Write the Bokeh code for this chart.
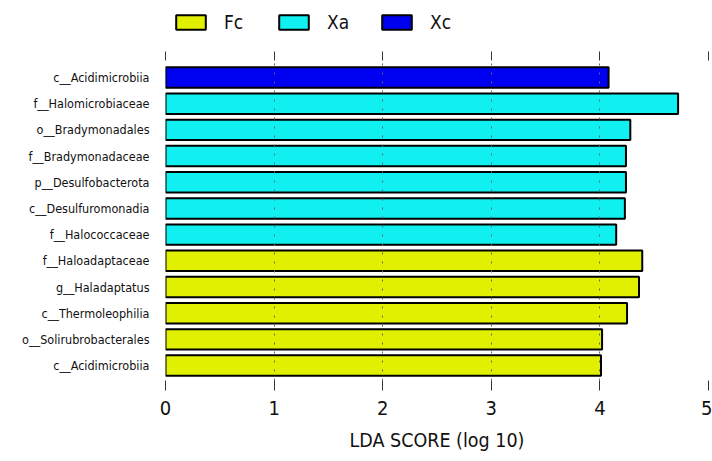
from bokeh.plotting import figure
from bokeh.layouts import column
from bokeh.models import (ColumnDataSource, FixedTicker, LinearAxis, Legend,
                          LegendItem, Range1d, Title)
from bokeh.embed import file_html
from bokeh.resources import INLINE

# ---- data (top to bottom as displayed) ----
features = ["c__Acidimicrobiia", "f__Halomicrobiaceae", "o__Bradymonadales",
            "f__Bradymonadaceae", "p__Desulfobacterota", "c__Desulfuromonadia",
            "f__Halococcaceae", "f__Haloadaptaceae", "g__Haladaptatus",
            "c__Thermoleophilia", "o__Solirubrobacterales", "c__Acidimicrobiia"]
groups = ["Xc", "Xa", "Xa", "Xa", "Xa", "Xa", "Xa", "Fc", "Fc", "Fc", "Fc", "Fc"]
lda = [4.08, 4.72, 4.28, 4.24, 4.24, 4.23, 4.15, 4.39, 4.36, 4.25, 4.02, 4.01]
group_order = ["Fc", "Xa", "Xc"]
group_colors = {"Fc": "#e0f000", "Xa": "#10f0f0", "Xc": "#0000f0"}
x_ticks = [0, 1, 2, 3, 4, 5]

FONT = "DejaVu Sans Condensed"
n = len(features)
ypos = [n - 1 - i for i in range(n)]

sources = {}
for g in group_order:
    idx = [i for i in range(n) if groups[i] == g]
    sources[g] = ColumnDataSource(dict(y=[ypos[i] for i in idx],
                                       right=[lda[i] for i in idx]))

# ---------------- legend strip ----------------
lg = figure(width=712, height=51, output_backend="svg", toolbar_location=None,
            x_range=Range1d(0, 5), y_range=Range1d(100, 101),
            min_border=0, x_axis_type=None, y_axis_type=None)
lg.outline_line_color = None
lg.xgrid.visible = False
lg.ygrid.visible = False
lg_items = []
for g in group_order:
    r = lg.hbar(y="y", left=0, right="right", height=0.78, source=sources[g],
                fill_color=group_colors[g], line_color="black", line_width=2)
    r.visible = False
    lg_items.append(LegendItem(label=g, renderers=[r]))
legend = Legend(items=lg_items, orientation="horizontal", location=(7, 18),
                glyph_width=37, glyph_height=18, label_standoff=15,
                label_width=41, spacing=10, padding=0, margin=0,
                label_text_font=FONT, label_text_font_size="19px",
                label_text_color="#111111", inactive_fill_alpha=0,
                border_line_color=None, background_fill_alpha=0)
lg.add_layout(legend, "center")

# ---------------- main plot ----------------
p = figure(width=712, height=410, output_backend="svg", toolbar_location=None,
           x_range=Range1d(0, 5), y_range=Range1d(-0.57, n - 1 + 0.65),
           min_border_left=165, min_border_right=4, min_border_top=9,
           min_border_bottom=80)
p.outline_line_color = None
p.background_fill_color = "white"
p.border_fill_color = "white"

for g in group_order:
    p.hbar(y="y", left=0, right="right", height=0.78, source=sources[g],
           fill_color=group_colors[g], line_color="black", line_width=2)

# x axis (bottom)
xa = p.xaxis[0]
xa.ticker = FixedTicker(ticks=x_ticks)
xa.axis_line_color = None
xa.minor_tick_line_color = None
xa.major_tick_in = 0
xa.major_tick_out = 10
xa.major_tick_line_color = "#333333"
xa.major_label_standoff = 10
xa.major_label_text_font = FONT
xa.major_label_text_font_size = "20px"
xa.major_label_text_color = "#111111"

# top ticks (no labels)
top = LinearAxis(ticker=FixedTicker(ticks=x_ticks))
top.axis_line_color = None
top.minor_tick_line_color = None
top.major_tick_in = 0
top.major_tick_out = 9
top.major_tick_line_color = "#333333"
top.major_label_overrides = {t: "" for t in x_ticks}
top.major_label_standoff = 0
p.add_layout(top, "above")

# y axis
ya = p.yaxis[0]
ya.ticker = FixedTicker(ticks=ypos)
ya.major_label_overrides = {ypos[i]: features[i] for i in range(n)}
ya.axis_line_color = None
ya.major_tick_line_color = None
ya.minor_tick_line_color = None
ya.major_label_standoff = 10
ya.major_label_text_font = FONT
ya.major_label_text_font_size = "12.5px"
ya.major_label_text_color = "#111111"

# grid
p.ygrid.grid_line_color = None
p.xgrid.ticker = FixedTicker(ticks=x_ticks)
p.xgrid.grid_line_color = "#666666"
p.xgrid.grid_line_dash = "2 7"
p.xgrid.grid_line_width = 1
p.xgrid.level = "overlay"

# axis title
t = Title(text="LDA SCORE (log 10)", align="center", offset=-22,
          text_font=FONT, text_font_size="19.5px", text_font_style="normal",
          text_color="#111111", standoff=19)
p.add_layout(t, "below")

layout = column(lg, p, spacing=0)
open("out.html", "w").write(file_html(layout, INLINE))
